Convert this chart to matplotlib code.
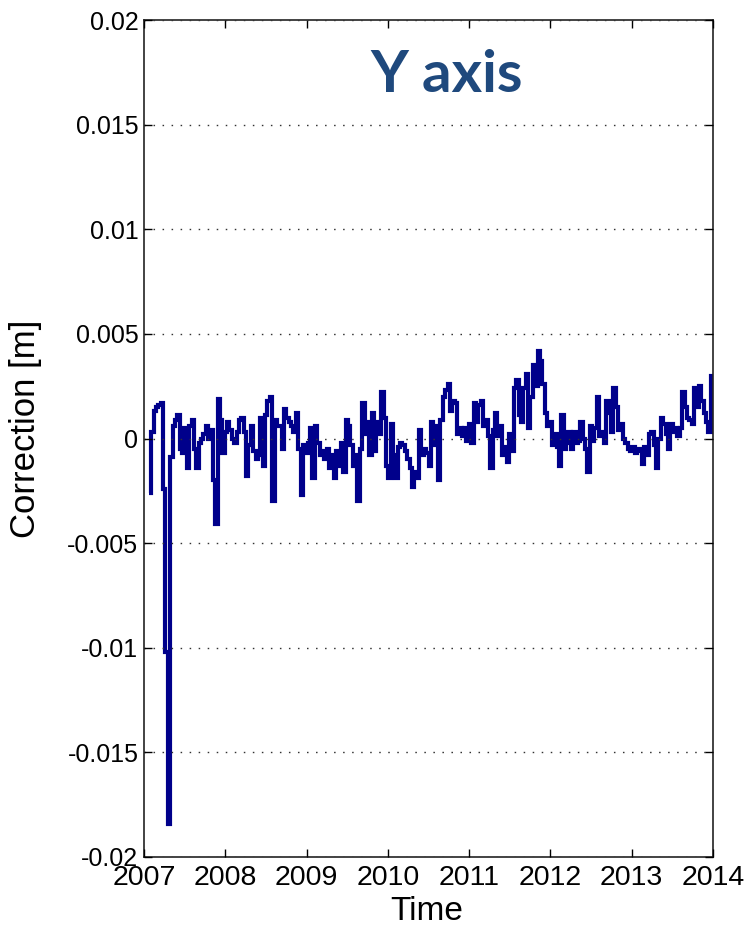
import numpy as np
import matplotlib
matplotlib.use("Agg")
import matplotlib.pyplot as plt

#------------------------------------------------------------------------------
# Y axis correction series [mm], sampled roughly every 10.6 days

t_start = 2007.06
t_end = 2014.0

correction_mm = [
    -2.6, 0.3, 1.3, 1.5, 1.6, 1.7, -2.4, -10.2, -18.4, -0.9,
    0.6, 0.9, 1.1, -0.5, -0.7, 0.5, -1.4, 0.6, 0.9, -0.5,
    -1.4, -0.2, 0.0, 0.2, 0.6, 0.0, 0.4, -2.0, -4.1, 1.9,
    0.9, -0.7, 0.3, 0.8, 0.4, 0.0, -0.2, 0.3, 0.9, 1.0,
    0.3, -1.8, -0.3, 0.6, -0.6, -1.0, -0.8, 1.0, -1.3, 1.1,
    1.8, 2.0, -3.0, 0.9, 0.6, 0.6, -0.5, 1.4, 1.0, 0.8,
    0.6, 0.3, 1.2, -0.5, -2.7, -0.3, -0.7, -0.2, 0.5, -1.9,
    0.6, -0.2, -0.8, -0.6, -1.0, -0.5, -1.4, -0.8, -1.9, -0.6,
    -1.3, -0.2, -1.6, 0.9, 0.6, -0.3, -1.3, -0.8, -3.0, -0.5,
    1.7, 0.2, 0.8, -0.8, 1.2, -0.6, 0.8, 0.2, 2.2, 1.0,
    -1.3, -1.9, 0.7, -0.8, -1.9, -0.4, -0.2, -0.3, -0.6, -1.0,
    -1.4, -2.3, -1.6, -1.9, 0.4, -0.8, -0.5, -0.7, -1.3, 0.8,
    -0.3, 0.6, -2.0, 0.9, 2.0, 2.3, 2.6, 1.3, 1.8, 1.7,
    0.2, 0.5, 0.1, 0.5, -0.1, 0.7, -0.2, 1.7, 0.8, 1.6,
    1.8, 0.6, 0.9, 0.1, -1.4, 0.4, 1.2, 0.1, 0.6, -0.8,
    -0.4, -1.1, 0.2, -0.6, 2.4, 2.8, 1.1, 0.8, 2.4, 3.1,
    0.5, 2.0, 3.5, 2.5, 4.2, 3.7, 2.6, 1.2, 0.6, 0.8,
    -0.3, 0.2, -0.4, -1.3, 1.1, -0.5, -0.2, 0.3, -0.5, 0.3,
    -0.2, -0.1, 0.8, 0.0, -0.5, -1.6, 0.6, -0.1, 0.5, 2.0,
    0.1, 0.3, -0.2, 1.8, 1.2, 0.3, 2.4, 1.5, 0.4, 0.7,
    0.0, -0.2, -0.5, -0.6, -0.4, -0.7, -0.5, -0.6, -1.2, -0.4,
    -0.8, 0.2, 0.3, -0.3, -1.4, 0.0, 1.0, 0.7, 0.2, -0.5,
    0.7, 0.3, 0.5, 0.1, 0.5, 2.2, 1.5, 1.0, 0.9, 0.7,
    2.4, 1.5, 2.5, 1.8, 1.2, 0.8, 0.3, 3.0, 1.5,
]

year_ticks = [2007, 2008, 2009, 2010, 2011, 2012, 2013, 2014]
corr_ticks = [-0.02, -0.015, -0.01, -0.005, 0, 0.005, 0.01, 0.015, 0.02]
corr_labels = ["-0.02", "-0.015", "-0.01", "-0.005", "0", "0.005", "0.01", "0.015", "0.02"]

#------------------------------------------------------------------------------

values = np.array(correction_mm) * 1e-3
t = np.linspace(t_start, t_end, len(values))

plt.rcParams['font.family'] = ['Liberation Sans', 'DejaVu Sans']

fig = plt.figure(figsize=(7.49, 9.31), dpi=100)
ax = fig.add_axes([144 / 749, 74 / 931, 569 / 749, 837 / 931])

ax.plot(t, values, color='#00008B', lw=3.0, drawstyle='steps-post',
        solid_joinstyle='miter', solid_capstyle='butt', zorder=2)

ax.set_xlim(2007, 2014)
ax.set_ylim(-0.02, 0.02)
ax.set_xticks(year_ticks)
ax.set_xticklabels([str(y) for y in year_ticks])
ax.set_yticks(corr_ticks)
ax.set_yticklabels(corr_labels)

# MATLAB-like box with inward ticks on every side
ax.tick_params(direction='in', length=6, width=1, top=True, right=True)
ax.tick_params(axis='y', labelsize=18, pad=4)
ax.tick_params(axis='x', labelsize=20.5, pad=6)
for s in ax.spines.values():
    s.set_linewidth(1.2)
    s.set_color('#222222')

ax.yaxis.grid(True, color='#333333', lw=1.0, linestyle=(0, (1.1, 5.4)))
ax.set_axisbelow(False)

ax.set_xlabel('Time', fontsize=24)
ax.xaxis.set_label_coords(0.497, -0.047)
ax.set_ylabel('Correction [m]', fontsize=25)
ax.yaxis.set_label_coords(-0.18, 0.512)

ax.text(0.532, 0.914, 'Y axis', transform=ax.transAxes, ha='center', va='baseline',
        fontsize=42, fontweight='bold', family=['Lato', 'DejaVu Sans'], color='#1F497D')

fig.savefig('out.png', dpi=100)
